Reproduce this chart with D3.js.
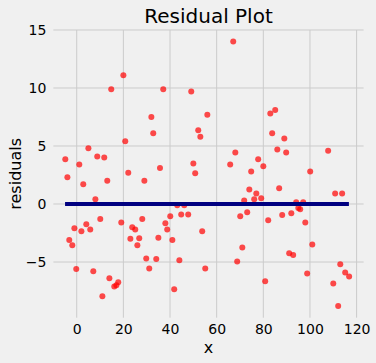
<!DOCTYPE html>
<html>
<head>
<meta charset="utf-8">
<script src="https://cdn.jsdelivr.net/npm/d3@7"></script>
<style>
  body { margin: 0; background: #f0f0f0; }
  svg { display: block; font-family: "DejaVu Sans", sans-serif; }
</style>
</head>
<body>
<svg id="chart" width="376" height="363"></svg>
<script>
// points
const xValues = [
  20.0, 14.8, 32.0, 32.8, 20.8, 5.0, -4.9, 8.8, 11.8, 1.1, 22.1, 35.7, -4.0, 13.1, 29.0, 2.8,
  67.1, 37.1, 49.1, 56.0, 52.1, 53.0, 68.0, 50.0, 50.8, 65.8, 77.8, 74.8, 74.0,
  85.1, 83.0, 83.8, 89.0, 86.0, 89.8, 107.8, 80.0, 100.1, 86.8,
  8.0, 10.1, 19.1, -1.0, 4.1, 2.0, 5.8, -3.2, -1.9, 23.8, 25.1, 28.1, 23.0, 26.8, 26.0, 35.0,
  29.8, 34.1, 31.1, -0.2, 7.1, 14.0, 17.8, 17.0, 16.1, 11.0,
  43.1, 46.1, 77.0, 76.1, 71.8, 40.1, 44.8, 47.8, 38.0, 38.8, 41.0, 53.8, 70.1, 73.1, 71.0,
  44.0, 68.8, 55.1, 41.8,
  79.1, 110.8, 113.8, 94.1, 97.1, 95.0, 95.8, 88.1, 92.0, 82.1, 98.0, 101.0, 91.1, 92.8,
  113.0, 115.1, 116.8, 98.8, 80.8, 110.0, 112.1
];
const residuals = [
  11.1, 9.9, 7.5, 6.1, 5.4, 4.8, 3.85, 4.1, 4.0, 3.4, 2.7, 3.1, 2.3, 2.0, 2.0, 1.7,
  14.0, 9.9, 9.7, 7.7, 6.35, 5.8, 4.45, 3.5, 2.65, 3.4, 3.85, 2.8, 1.25,
  8.1, 7.8, 6.1, 5.65, 4.7, 4.45, 4.6, 3.25, 2.8, 1.35,
  0.4, -1.3, -1.6, -2.1, -1.75, -2.35, -2.2, -3.1, -3.55, -2.0, -2.2, -1.3, -3.0, -2.95, -3.55, -2.9,
  -4.7, -4.75, -5.55, -5.6, -5.8, -6.4, -6.75, -7.0, -7.1, -7.95,
  -0.1, -0.1, 0.9, 0.4, 0.3, -1.05, -0.9, -0.9, -1.65, -2.2, -3.1, -2.35, -1.05, -0.7, -3.75,
  -4.85, -4.95, -5.55, -7.35,
  0.5, 0.9, 0.9, 0.15, 0.15, -0.35, -0.45, -0.95, -0.8, -1.4, -1.6, -3.5, -4.25, -4.4,
  -5.2, -5.9, -6.25, -6.0, -6.65, -6.85, -8.8
];
const xTicks = [0, 20, 40, 60, 80, 100, 120];
const yTicks = [-5, 0, 5, 10, 15];

const svg = d3.select("#chart");

const x = d3.scaleLinear().domain([-10, 123]).range([53.4, 363.6]);
const y = d3.scaleLinear().domain([-9.8, 15]).range([317.7, 30]);

// grid
const grid = svg.append("g").attr("stroke", "#cbcbcb").attr("stroke-width", 1);
grid.selectAll(".gx").data(xTicks).join("line")
  .attr("x1", d => x(d)).attr("x2", d => x(d))
  .attr("y1", y.range()[0]).attr("y2", y.range()[1]);
grid.selectAll(".gy").data(yTicks).join("line")
  .attr("y1", d => y(d)).attr("y2", d => y(d))
  .attr("x1", x.range()[0]).attr("x2", x.range()[1]);

// axes (ticks only as labels)
const xAxis = svg.append("g")
  .attr("transform", `translate(0,${y.range()[0]})`)
  .call(d3.axisBottom(x).tickValues(xTicks).tickSize(0).tickPadding(6));
const yAxis = svg.append("g")
  .attr("transform", `translate(${x.range()[0]},0)`)
  .call(d3.axisLeft(y).tickValues(yTicks).tickSize(0).tickPadding(7)
    .tickFormat(d => d < 0 ? "\u2212" + Math.abs(d) : d));
[xAxis, yAxis].forEach(a => {
  a.select(".domain").remove();
  a.selectAll("text").attr("font-size", 14).attr("fill", "#000")
    .attr("font-family", "DejaVu Sans, sans-serif");
});

// points
const pts = xValues.map((v, i) => ({ x: v, r: residuals[i] }));
svg.append("g").selectAll("circle").data(pts).join("circle")
  .attr("cx", d => x(d.x))
  .attr("cy", d => y(d.r))
  .attr("r", 3)
  .attr("fill", "red")
  .attr("fill-opacity", 0.7);

// zero line
const zeroLine = [d3.min(xValues) - 0.1, d3.max(xValues) - 0.1];
svg.append("line")
  .attr("x1", x(zeroLine[0])).attr("x2", x(zeroLine[1]))
  .attr("y1", y(0)).attr("y2", y(0))
  .attr("stroke", "navy").attr("stroke-width", 4);

// labels
svg.append("text").attr("x", (x.range()[0] + x.range()[1]) / 2).attr("y", 23)
  .attr("text-anchor", "middle").attr("font-size", 20).text("Residual Plot");
svg.append("text").attr("x", (x.range()[0] + x.range()[1]) / 2).attr("y", 353)
  .attr("text-anchor", "middle").attr("font-size", 16).text("x");
svg.append("text")
  .attr("transform", `translate(21,${(y.range()[0] + y.range()[1]) / 2}) rotate(-90)`)
  .attr("text-anchor", "middle").attr("font-size", 16).text("residuals");
</script>
</body>
</html>
